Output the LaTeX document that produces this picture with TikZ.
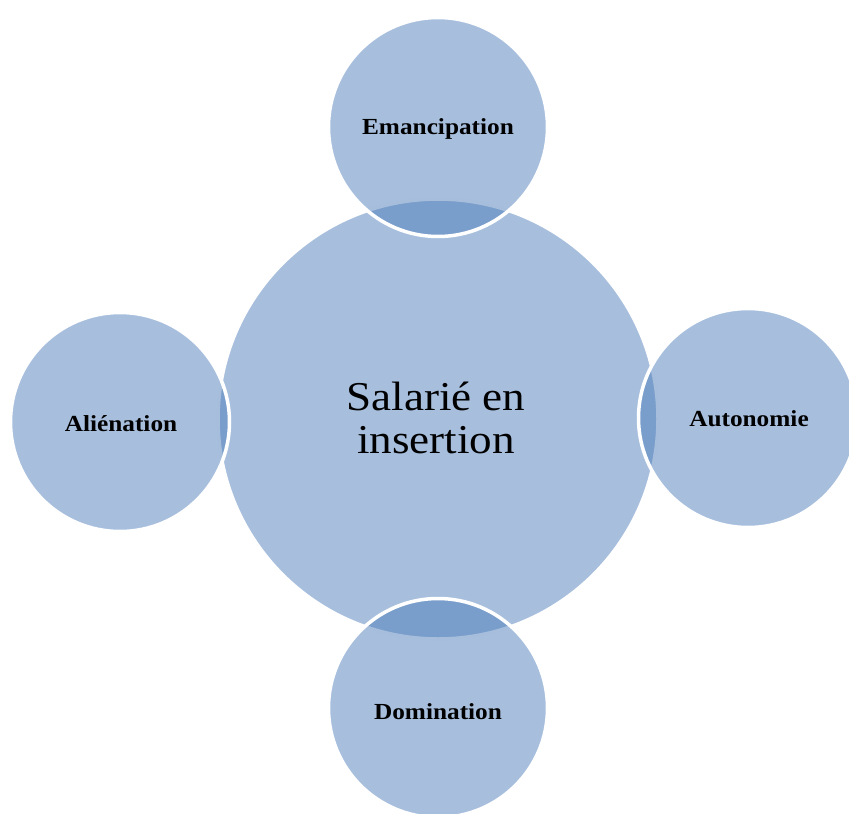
\documentclass[tikz,border=0pt]{standalone}
\usepackage{fontspec}
\setmainfont[FakeStretch=1.1]{Liberation Serif}
\definecolor{cbase}{HTML}{A7BFDD}
\definecolor{csat}{HTML}{4F7FBB}
\begin{document}
\begin{tikzpicture}[x=1pt,y=-1pt,
  hub/.style={circle, fill=cbase, draw=white, line width=3.5pt, minimum size=440pt, inner sep=0pt},
  sat/.style={circle, fill=csat, fill opacity=0.5, draw=white, draw opacity=1, line width=3.5pt, minimum size=219pt, inner sep=0pt},
  lbl/.style={font=\fontsize{23}{27}\selectfont\bfseries},
  hubtext/.style={font=\fontsize{41}{43}\selectfont, align=center}]
\useasboundingbox (0,0) rectangle (849,814);
\clip (0,0) rectangle (849,814);
\node[hub] (c) at (438,419) {};
\node[hubtext] (ct) at (436,418) {Salarié en\\insertion};
\node[sat] (t) at (438,127) {};
\node[sat] (r) at (748,418) {};
\node[sat] (b) at (438,708) {};
\node[sat] (l) at (120,422) {};
\node[lbl] (tl) at (438,129) {Emancipation};
\node[lbl] (rl) at (749,419) {Autonomie};
\node[lbl] (bl) at (438,712) {Domination};
\node[lbl] (ll) at (121,424) {Aliénation};
\end{tikzpicture}
\end{document}
